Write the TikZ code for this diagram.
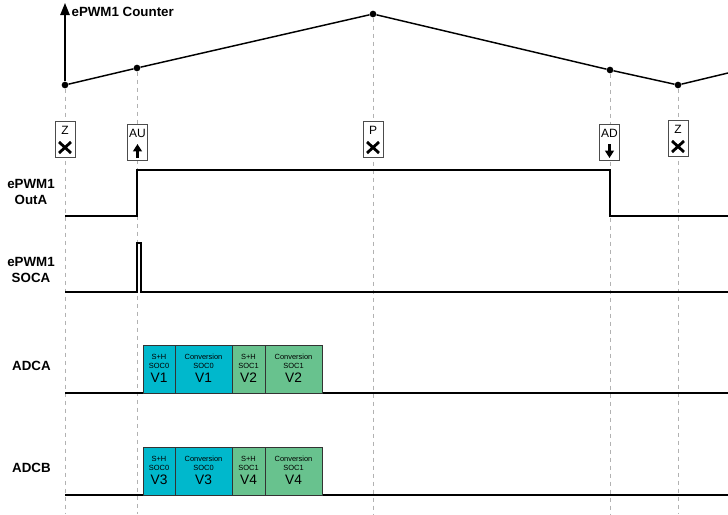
\documentclass[tikz,border=0pt]{standalone}
\usepackage{fontspec}
\setmainfont{Liberation Sans}
\usetikzlibrary{arrows.meta}
\definecolor{adcblue}{RGB}{0,184,204}
\definecolor{adcgreen}{RGB}{104,194,142}
\begin{document}
\begin{tikzpicture}[x=0.75pt,y=-0.75pt,
  sig/.style   ={draw=black, line width=1.1pt},
  guide/.style ={draw=gray!60, dashed, line width=0.4pt},
  evbox/.style ={draw=black!70, fill=white, line width=0.6pt, minimum width=15pt, minimum height=27pt, inner sep=0pt},
  evtxt/.style ={font=\fontsize{9}{10}\selectfont, inner sep=0pt},
  evarr/.style ={line width=1.8pt, -{Triangle[length=5.5pt,width=6.5pt]}},
  lbl/.style   ={font=\bfseries\fontsize{10}{11.5}\selectfont, align=center},
  adcbox/.style={draw=black!80, line width=0.6pt, fill=adcblue, minimum height=36pt, inner sep=0pt, outer sep=0pt},
  small/.style ={font=\fontsize{5.6}{6}\selectfont, inner sep=0pt},
  big/.style   ={font=\fontsize{10.3}{11}\selectfont, inner sep=0pt},
  dot/.style   ={circle, fill=black, inner sep=0pt, minimum size=5pt}]
  \useasboundingbox (0,0) rectangle (728,514);

  % ---------------- counter ----------------
  \node[dot] (c0) at (65,85){};  \node[dot] (c1) at (137,68){};
  \node[dot] (c2) at (373,14){}; \node[dot] (c3) at (610,70){};
  \node[dot] (c4) at (678,85){};
  \coordinate (cend) at (728,73);
  \coordinate (ctop) at (65,3);
  \draw[sig] (c0) -- (c1) -- (c2) -- (c3) -- (c4) -- (cend);
  \draw[sig,-{Triangle[length=9pt,width=7pt]}] (c0) -- (ctop);
  \node[lbl,right,inner sep=1pt] (clbl) at (70,12){ePWM1 Counter};

  % ---------------- guide lines ----------------
  \foreach \p in {c0,c1,c2,c3,c4}
    \draw[guide] (\p) -- (\p |- 0,514);

  % ---------------- event boxes ----------------
  \node[evbox] (ez1) at (65,139){};
  \node[evbox] (eau) at (137.5,142){};
  \node[evbox] (ep)  at (373,139){};
  \node[evbox] (ead) at (609.5,142){};
  \node[evbox] (ez2) at (678,138){};
  \foreach \b/\t in {ez1/Z,eau/AU,ep/P,ead/AD,ez2/Z}
    \node[evtxt] at ([shift={(0,-9)}]\b.center){\t};
  \foreach \b in {ez1,ep,ez2}
    \draw[line width=2.1pt] ([shift={(-6,3)}]\b.center) -- ([shift={(6,14)}]\b.center)
                            ([shift={(-6,14)}]\b.center) -- ([shift={(6,3)}]\b.center);
  \draw[evarr] ([shift={(0,16)}]eau.center) -- ([shift={(0,2)}]eau.center);
  \draw[evarr] ([shift={(0,2)}]ead.center) -- ([shift={(0,16)}]ead.center);

  % ---------------- ePWM1 OutA ----------------
  \node[lbl] (outa) at (31,192){ePWM1\\OutA};
  \draw[sig] (65,216) -- (137,216) -- (137,170) -- (610,170) -- (610,216) -- (728,216);

  % ---------------- ePWM1 SOCA ----------------
  \node[lbl] (soca) at (31,270){ePWM1\\SOCA};
  \draw[sig] (65,292) -- (137,292) -- (137,243) -- (141,243) -- (141,292) -- (728,292);

  % ---------------- ADCA ----------------
  \node[lbl] (adca) at (31.5,366){ADCA};
  \draw[sig] (65,393) -- (728,393);
  % ---------------- ADCB ----------------
  \node[lbl] (adcb) at (31.5,468){ADCB};
  \draw[sig] (65,495) -- (728,495);

  % ---------------- conversion boxes ----------------
  \foreach \y/\va/\vb [count=\i] in {369/V1/V2,471/V3/V4}{
    \node[adcbox, minimum width=24pt] (sha\i) at (159,\y){};
    \node[adcbox, minimum width=42.75pt, anchor=west] (cva\i) at (sha\i.east){};
    \node[adcbox, fill=adcgreen, minimum width=24.75pt, anchor=west] (shb\i) at (cva\i.east){};
    \node[adcbox, fill=adcgreen, minimum width=42.75pt, anchor=west] (cvb\i) at (shb\i.east){};
    \foreach \b/\top/\soc/\v in {sha\i/S+H/SOC0/\va, cva\i/Conversion/SOC0/\va,
                                 shb\i/S+H/SOC1/\vb, cvb\i/Conversion/SOC1/\vb}{
      \node[small] at ([shift={(0,-12)}]\b.center){\top};
      \node[small] at ([shift={(0,-3.5)}]\b.center){\soc};
      \node[big]   at ([shift={(0,9)}]\b.center){\v};
    }
  }
\end{tikzpicture}
\end{document}
